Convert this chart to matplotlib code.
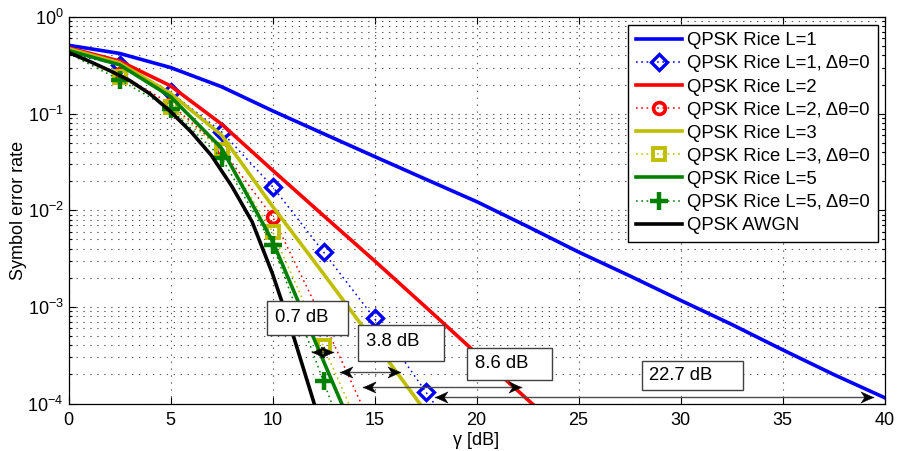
import numpy as np
import matplotlib
matplotlib.use('Agg')
import matplotlib.pyplot as plt
from matplotlib.path import Path
from matplotlib.patches import Rectangle
from matplotlib.ticker import LogLocator, NullLocator, NullFormatter, MultipleLocator

plt.rcParams['font.family'] = ['Liberation Sans', 'DejaVu Sans']
plt.rcParams['mathtext.fontset'] = 'custom'
plt.rcParams['mathtext.rm'] = 'Liberation Sans'
plt.rcParams['mathtext.it'] = 'Liberation Sans:italic'
plt.rcParams['font.size'] = 13
plt.rcParams['lines.scale_dashes'] = False

# SNR grids [dB]
snr_step = np.arange(0, 40.01, 2.5)
snr_awgn = np.arange(0, 14, 1.0)

# solid curves (exact SER)
ser_l1 = [0.51, 0.42, 0.30, 0.19, 0.107, 0.062, 0.036, 0.021, 0.0123, 0.0068,
          0.0037, 0.0021, 0.00117, 6.6e-4, 3.6e-4, 2.0e-4, 1.15e-4]
ser_l2 = [0.48, 0.35, 0.194, 0.078, 0.026, 0.0088, 0.0030, 0.0010, 3.3e-4, 1.1e-4, 3.7e-5]
ser_l3 = [0.47, 0.335, 0.162, 0.060, 0.011, 0.0022, 4.3e-4, 8.3e-5]
ser_l5 = [0.45, 0.32, 0.15, 0.044, 0.0048, 2.75e-4, 1.6e-5]
ser_awgn = [0.43, 0.35, 0.28, 0.22, 0.16, 0.105, 0.065, 0.037, 0.0178, 0.0076,
            0.0022, 5.2e-4, 1.07e-4, 2.0e-5]

# simulated, phase error dtheta = 0
ser_l1_d0 = [0.42, 0.32, 0.166, 0.065, 0.0176, 0.0037, 7.6e-4, 1.33e-4, 2.5e-5]
ser_l2_d0 = [0.42, 0.26, 0.126, 0.043, 0.0086, 7.1e-4, 5e-5]
ser_l3_d0 = [0.42, 0.24, 0.118, 0.042, 0.0060, 3.9e-4, 2.5e-5]
ser_l5_d0 = [0.42, 0.224, 0.112, 0.035, 0.0044, 1.7e-4, 6.3e-6]

# SNR gaps at SER ~ 1e-4: (text, left end, right end, level)
gap_text = ['0.7 dB', '3.8 dB', '8.6 dB', '22.7 dB']
gap_x0 = [11.93, 13.30, 14.44, 17.96]
gap_x1 = [12.96, 16.24, 22.20, 39.42]
gap_y = [3.4e-4, 2.1e-4, 1.48e-4, 1.17e-4]

blue, red, yel, grn = (0, 0, 1), (1, 0, 0), (0.75, 0.75, 0), (0, 0.5, 0)
dot = (0, (1.2, 2.6))

fig = plt.figure(figsize=(9.02, 4.51), dpi=100)
ax = fig.add_axes([68.5/902, 1-403.5/451, 816/902, 386.5/451])

def n(a):
    return snr_step[:len(a)]

lw = 2.6
mk = dict(markevery=slice(1, None), mfc='none', lw=1.1, ls=dot)
ax.plot(n(ser_l1), ser_l1, '-', c=blue, lw=lw, label='QPSK Rice L=1')
ax.plot(n(ser_l1_d0), ser_l1_d0, c=blue, marker='D', ms=8.5, mew=2.4, mec=blue,
        label=u'QPSK Rice L=1, \u0394\u03b8=0', **mk)
ax.plot(n(ser_l2), ser_l2, '-', c=red, lw=lw, label='QPSK Rice L=2')
ax.plot(n(ser_l2_d0), ser_l2_d0, c=red, marker='o', ms=8.5, mew=2.6, mec=red,
        label=u'QPSK Rice L=2, \u0394\u03b8=0', **mk)
ax.plot(n(ser_l3), ser_l3, '-', c=yel, lw=lw, label='QPSK Rice L=3')
ax.plot(n(ser_l3_d0), ser_l3_d0, c=yel, marker='s', ms=8, mew=2.8, mec=yel,
        label=u'QPSK Rice L=3, \u0394\u03b8=0', **mk)
ax.plot(n(ser_l5), ser_l5, '-', c=grn, lw=lw, label='QPSK Rice L=5')
ax.plot(n(ser_l5_d0), ser_l5_d0, c=grn, marker='+', ms=13, mew=3.2, mec=grn,
        label=u'QPSK Rice L=5, \u0394\u03b8=0', **mk)
ax.plot(snr_awgn, ser_awgn, '-', c='k', lw=lw, label='QPSK AWGN')

ax.set_yscale('log')
ax.set_xlim(0, 40)
ax.set_ylim(1e-4, 1)
ax.xaxis.set_major_locator(MultipleLocator(5))
ax.xaxis.set_minor_locator(NullLocator())
ax.yaxis.set_minor_locator(LogLocator(base=10, subs=np.arange(2, 10)))
ax.yaxis.set_minor_formatter(NullFormatter())
ax.tick_params(which='both', direction='in', top=True, right=True, width=0.8)
ax.tick_params(which='major', length=5, labelsize=13)
ax.tick_params(which='minor', length=2.5)
ax.tick_params(axis='x', pad=6)
for s in ax.spines.values():
    s.set_linewidth(0.9)
gcol = (0.35, 0.35, 0.35)
ax.grid(True, which='major', ls=(0, (1, 4)), lw=0.8, color=gcol)
ax.grid(True, which='minor', axis='y', ls=(0, (1, 4)), lw=0.8, color=gcol)

ax.set_xlabel(u'\u03b3 [dB]', fontsize=13, labelpad=2)
ax.set_ylabel('Symbol error rate', fontsize=13, labelpad=0)

leg = ax.legend(loc='upper right', bbox_to_anchor=(1 - 7/816, 1 - 8/386.5),
                borderaxespad=0, fontsize=13.3, handlelength=2.5, handletextpad=0.3,
                labelspacing=0.33, borderpad=0.4, fancybox=False, framealpha=1,
                numpoints=1)
leg.get_frame().set_edgecolor('k')
leg.get_frame().set_linewidth(1.0)

# double arrows with notched heads
head_r = Path([(0, 0), (-1, 0.45), (-0.7, 0), (-1, -0.45), (0, 0)],
              [Path.MOVETO, Path.LINETO, Path.LINETO, Path.LINETO, Path.CLOSEPOLY])
head_l = Path([(0, 0), (1, 0.45), (0.7, 0), (1, -0.45), (0, 0)],
              [Path.MOVETO, Path.LINETO, Path.LINETO, Path.LINETO, Path.CLOSEPOLY])
for x0, x1, y in zip(gap_x0, gap_x1, gap_y):
    ax.plot([x0, x1], [y, y], '-', c='0.3', lw=1.0, zorder=5)
    ax.plot([x0], [y], marker=head_l, ms=18, mfc='k', mec='k', mew=0.3, ls='none', zorder=6)
    ax.plot([x1], [y], marker=head_r, ms=18, mfc='k', mec='k', mew=0.3, ls='none', zorder=6)

# text boxes (figure pixels: left, top, right, bottom, text x, text y)
boxes = [(267, 301, 348, 335, 275, 317),
         (358, 325, 444, 361, 366, 342),
         (467, 348, 552, 380, 475, 364),
         (642, 361, 743, 390, 649, 375)]
W, H = 902.0, 451.0
for t, (l, tp, r, b, tx, ty) in zip(gap_text, boxes):
    fig.add_artist(Rectangle((l/W, 1-b/H), (r-l)/W, (b-tp)/H, transform=fig.transFigure,
                             fc='white', ec='0.25', lw=1.0, zorder=10))
    fig.text(tx/W, 1-ty/H, t, ha='left', va='center', fontsize=13.3, zorder=11)

fig.savefig('out.png', dpi=100)
